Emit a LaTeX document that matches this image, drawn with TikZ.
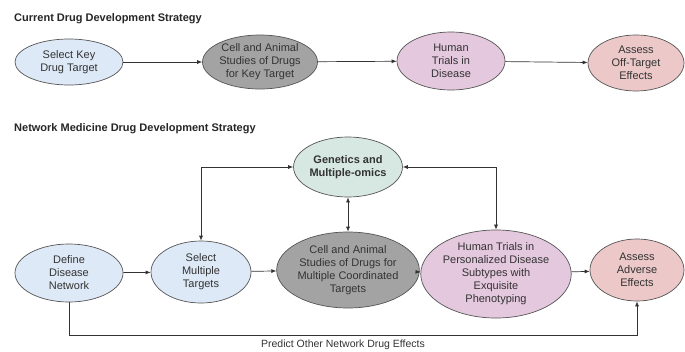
\documentclass[tikz,border=0pt]{standalone}
\usepackage{fontspec}
\setmainfont{Liberation Sans}
\usetikzlibrary{shapes.geometric,arrows.meta,calc}
\definecolor{fblue}{HTML}{DDE9F6}
\definecolor{fgray}{HTML}{A3A3A3}
\definecolor{fpurple}{HTML}{E4C8DE}
\definecolor{fpink}{HTML}{ECC8C8}
\definecolor{fgreen}{HTML}{D7E7E1}
\definecolor{edgec}{HTML}{555555}
\definecolor{txt}{HTML}{333333}
\tikzset{
  oval/.style={ellipse, draw=edgec, line width=0.7pt, inner sep=0pt, align=center,
    text=txt, font=\fontsize{11}{13}\selectfont},
  arr/.style={-{Latex[length=5pt,width=4pt]}, draw=black!80, line width=0.7pt},
  dbl/.style={{Latex[length=5pt,width=4pt]}-{Latex[length=5pt,width=4pt]}, draw=black!80, line width=0.7pt},
  ttl/.style={anchor=west, inner sep=0pt, font=\fontsize{11}{13}\selectfont\bfseries, text=black!85},
  lbl/.style={inner sep=0pt, font=\fontsize{10.5}{13}\selectfont, text=txt}
}
\begin{document}
\begin{tikzpicture}[x=1pt,y=-1pt]
\useasboundingbox[fill=white] (0,0) rectangle (685,351);
% titles
\node[ttl] (t1) at (14,19) {Current Drug Development Strategy};
\node[ttl] (t2) at (14,129) {Network Medicine Drug Development Strategy};
% top row
\node[oval, fill=fblue, minimum width=108pt, minimum height=46pt] (a1) at (69,62) {Select Key\\Drug Target};
\node[oval, fill=fgray, minimum width=110pt, minimum height=54pt] (a2) at (260,62) {Cell and Animal\\Studies of Drugs\\for Key Target};
\node[oval, fill=fpurple, minimum width=108pt, minimum height=58pt] (a3) at (451,61) {Human\\Trials in\\Disease};
\node[oval, fill=fpink, minimum width=96pt, minimum height=56pt] (a4) at (636,63) {Assess\\Off-Target\\Effects};
\draw[arr] (a1) -- (a2);
\draw[arr] (a2) -- (a3);
\draw[arr] (a3) -- (a4);
% bottom
\node[oval, fill=fgreen, minimum width=108pt, minimum height=60pt, font=\fontsize{11}{13}\selectfont\bfseries] (g) at (348,167) {Genetics and\\Multiple-omics};
\node[oval, fill=fblue, minimum width=108pt, minimum height=58pt] (b1) at (69,273) {Define\\Disease\\Network};
\node[oval, fill=fblue, minimum width=100pt, minimum height=62pt] (b2) at (201,272) {Select\\Multiple\\Targets};
\node[oval, fill=fgray, minimum width=124pt, minimum height=76pt] (b3) at (348,270) {Cell and Animal\\Studies of Drugs for\\Multiple Coordinated\\Targets};
\node[oval, fill=fpurple, minimum width=116pt, minimum height=88pt] (b4) at (496,274) {Human Trials in\\Personalized Disease\\Subtypes with\\Exquisite\\Phenotyping};
\node[oval, fill=fpink, minimum width=94pt, minimum height=62pt] (b5) at (637,270) {Assess\\Adverse\\Effects};
\draw[arr] (b1) -- (b2);
\draw[arr] (b2) -- (b3);
\draw[arr] (b3) -- (b4);
\draw[arr] (b4) -- (b5);
\draw[dbl] (g.west) -| (b2.north);
\draw[dbl] (g.east) -| (b4.north);
\draw[dbl] (g.south) -- (b3.north);
\coordinate (low) at (0,335);
\draw[arr] (b1.south) |- (low -| b5.south) -- (b5.south);
\node[lbl] (pl) at (343,345) {Predict Other Network Drug Effects};
\end{tikzpicture}
\end{document}
